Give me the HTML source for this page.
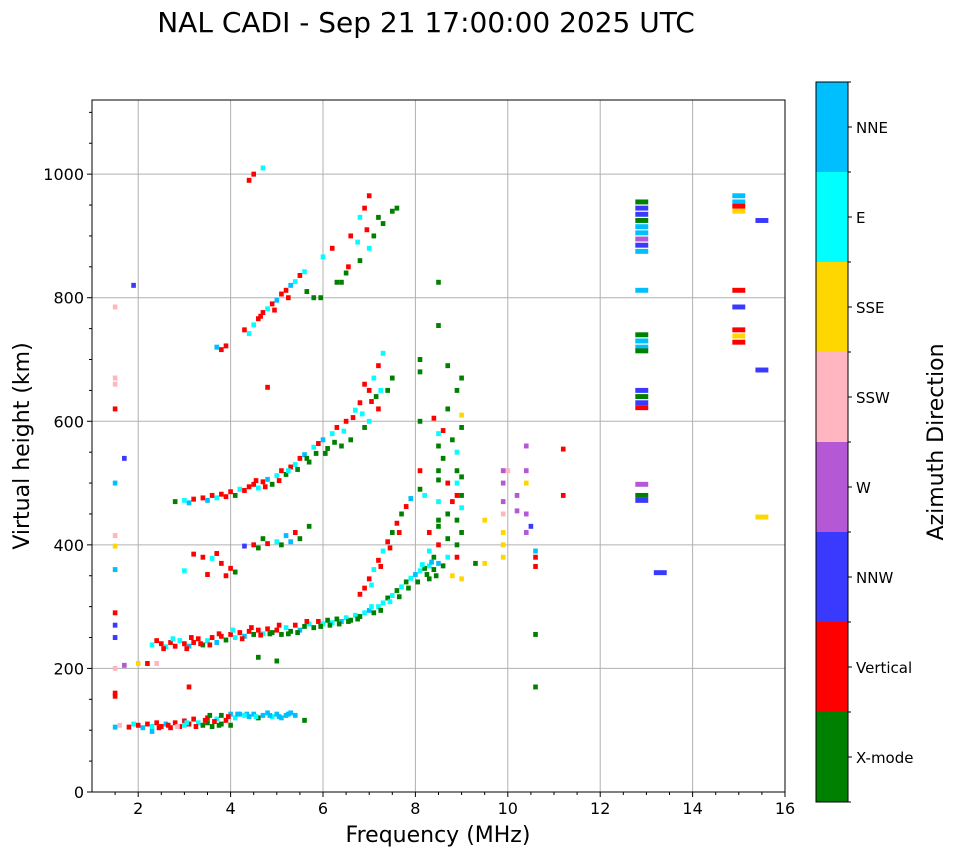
<!DOCTYPE html>
<html><head><meta charset="utf-8"><style>
body{margin:0;background:#fff;font-family:"DejaVu Sans","Liberation Sans",sans-serif}
svg text{font-family:"DejaVu Sans","Liberation Sans",sans-serif}
</style></head><body>
<svg id="chart" width="958" height="857" xmlns="http://www.w3.org/2000/svg">
<rect width="958" height="857" fill="#fff"/>
<text x="426" y="32" font-size="28" text-anchor="middle">NAL CADI - Sep 21 17:00:00 2025 UTC</text>
<g id="grid"></g>
<g id="marks"></g>
<rect x="92" y="100" width="693" height="692" fill="none" stroke="#000" stroke-width="1"/>
<g id="axes"></g>
<text x="438" y="842" font-size="22" text-anchor="middle">Frequency (MHz)</text>
<text transform="translate(29,446) rotate(-90)" font-size="22" text-anchor="middle">Virtual height (km)</text>
<g id="cbar"></g>
<text transform="translate(943,442) rotate(-90)" font-size="22" text-anchor="middle">Azimuth Direction</text>
</svg>
<script>
const directions=["X-mode","Vertical","NNW","W","SSW","SSE","E","NNE"];
const dirColors=["#008000","#ff0000","#3a3aff","#b558d6","#ffb6c1","#ffd700","#00ffff","#00bfff"];
const xTicks=[2,4,6,8,10,12,14,16];
const yTicks=[0,200,400,600,800,1000];
const echoes=[
[1.5,105,7],[1.6,108,4],[1.8,105,1],[1.9,110,6],[2.0,108,1],[2.1,104,7],[2.2,110,1],[2.3,106,6],[2.3,98,7],[2.4,112,1],[2.5,106,1],[2.6,110,7],[2.7,104,1],[2.8,112,1],[2.9,106,1],[3.0,115,1],[3.0,108,6],[3.1,110,1],[3.2,118,1],[3.3,112,6],[3.4,108,0],[3.5,120,1],[3.5,112,0],[3.6,106,0],[3.7,118,6],[3.8,124,0],[3.8,110,0],[3.9,116,1],[4.0,126,7],[4.0,108,0],[4.1,120,6],[4.2,126,7],[4.4,122,7],[4.5,126,7],[4.6,120,0],[4.7,124,7],[4.8,128,7],[4.9,122,6],[5.0,126,7],[5.1,120,7],[5.2,124,7],[5.3,128,7],[5.4,124,7],[5.6,116,0],
[2.45,104,1],[2.65,108,1],[2.85,106,4],[3.05,112,6],[3.25,106,1],[3.45,116,1],[3.65,114,1],[3.75,108,0],[3.95,122,1],[4.15,126,7],[4.35,126,7],[4.55,122,6],[4.85,124,7],[5.05,122,7],[5.25,126,7],[4.3,124,6],[3.55,124,0],
[1.5,160,1],[1.5,155,1],[2.0,208,5],[2.2,208,1],[2.4,208,4],[3.1,170,1],
[2.3,238,6],[2.4,245,1],[2.5,240,1],[2.6,235,6],[2.7,242,1],[2.8,236,1],[2.9,245,6],[3.0,240,1],[3.1,236,7],[3.2,242,1],[3.3,248,1],[3.4,238,0],[3.5,245,6],[3.6,250,1],[3.7,242,7],[3.8,252,1],[3.9,246,0],[4.0,255,1],[4.1,250,6],[4.2,258,1],[4.3,252,7],[4.4,260,1],[4.5,255,0],[4.6,262,1],[4.7,256,6],[4.8,264,1],[4.9,258,0],[5.0,262,1],[5.1,255,0],[5.2,266,6],[5.3,260,0],[5.4,270,1],[5.5,262,7],[5.6,268,0],[5.7,272,6],[5.8,266,0],[5.9,276,1],[6.0,272,6],[6.1,278,0],[6.2,274,6],[6.3,280,0],[6.4,276,7],[6.5,282,6],[6.6,278,0],[6.7,286,6],[6.8,284,0],[6.9,290,6],[7.0,294,7],[7.1,290,0],[7.2,300,6],[7.3,306,6],[7.4,314,0],[7.5,318,6],[7.6,326,0],[7.7,332,6],[7.8,340,0],[7.9,346,6],[8.0,352,7],[8.1,358,6],[8.2,362,0],[8.3,366,6],[8.4,360,0],[8.5,370,7],[8.6,366,0],[4.6,218,0],[5.0,212,0],
[2.55,232,1],[2.75,248,6],[3.05,232,1],[3.15,250,1],[3.35,240,1],[3.55,238,1],[3.75,256,1],[4.05,262,6],[4.25,248,1],[4.45,266,1],[4.65,254,1],[4.85,256,0],[5.05,270,1],[5.25,256,0],[5.45,258,0],[5.65,276,1],[5.95,268,0],[6.15,270,0],[6.35,272,0],[6.55,276,0],[6.75,280,0],[7.05,300,6],[7.25,294,0],[7.45,308,6],[7.65,316,0],[7.85,330,0],[8.05,340,0],[8.25,352,0],[8.35,372,7],[8.45,350,0],[8.15,368,6],
[6.8,320,1],[6.9,330,1],[7.0,345,1],[7.1,360,6],[7.2,375,1],[7.3,390,6],[7.4,405,1],[7.5,420,0],[7.6,435,1],[7.7,450,0],[7.8,462,1],[7.9,475,7],[7.05,335,6],[7.25,365,1],[7.45,395,1],[7.65,420,1],
[3.2,385,1],[3.4,380,1],[3.6,378,6],[3.8,370,1],[4.0,362,1],[4.1,356,0],[3.5,352,1],[3.0,358,6],[3.7,386,1],[3.9,350,1],
[4.3,398,2],[4.5,400,1],[4.6,395,0],[4.8,402,1],[5.0,405,6],[5.2,415,7],[5.4,420,1],[5.5,410,0],[5.7,430,0],[4.7,410,0],[5.1,400,0],[5.3,405,7],
[2.8,470,0],[3.0,472,6],[3.1,468,7],[3.2,474,1],[3.4,476,1],[3.5,472,7],[3.6,480,1],[3.7,476,6],[3.8,482,1],[4.0,486,1],[4.1,480,0],[4.2,490,6],[4.4,494,1],[4.5,498,1],[4.6,492,6],[4.7,502,1],[4.8,506,7],[4.9,498,0],[5.0,512,6],[5.1,520,1],[5.2,514,0],[5.3,526,1],[5.4,530,6],[5.5,540,1],[5.6,546,7],[5.7,534,0],[5.8,558,6],[5.9,564,1],[6.0,570,7],[6.1,556,0],[6.2,580,6],[6.3,590,1],[6.4,560,0],[6.5,600,1],[6.6,570,0],[6.7,618,6],[6.8,630,1],[6.9,590,0],[7.0,650,1],[7.1,670,6],[7.2,690,1],[7.3,710,6],[7.0,600,6],[7.2,620,1],[7.4,650,0],[7.5,670,0],[6.9,660,1],[4.8,655,1],
[3.9,478,1],[4.3,488,1],[4.55,504,1],[4.75,494,1],[5.05,504,1],[5.25,520,6],[5.45,522,0],[5.65,540,0],[5.85,548,0],[6.05,548,0],[6.25,566,0],[6.45,584,6],[6.65,606,1],[6.85,612,6],[7.05,632,1],[7.25,650,6],[7.15,640,0],
[3.7,720,7],[3.8,716,1],[3.9,722,1],[4.3,748,1],[4.4,742,6],[4.5,756,6],[4.6,766,1],[4.7,776,1],[4.8,782,6],[4.9,790,1],[5.0,796,7],[5.1,806,1],[5.2,812,1],[5.3,820,7],[5.4,826,6],[5.5,836,1],[5.6,842,6],[5.8,800,0],[6.0,866,6],[6.2,880,1],[6.4,825,0],[6.5,840,0],[6.6,900,1],[6.8,930,6],[6.9,945,1],[7.0,965,1],[7.1,900,0],[7.3,920,0],[7.6,945,0],[6.8,860,0],[7.0,880,6],[4.5,1000,1],[4.7,1010,6],[4.4,990,1],
[4.65,770,1],[4.95,780,1],[5.25,800,1],[5.65,810,0],[5.95,800,0],[6.3,825,0],[6.55,850,1],[6.75,890,6],[6.95,910,1],[7.2,930,0],[7.5,940,0],
[8.1,700,0],[8.1,680,0],[8.1,520,1],[8.1,490,0],[8.2,480,6],[8.3,420,1],[8.4,605,1],[8.5,825,0],[8.5,755,0],[8.5,560,0],[8.5,520,0],[8.5,470,6],[8.5,430,0],[8.5,400,1],[8.6,585,1],[8.6,540,0],[8.7,690,0],[8.7,620,0],[8.7,500,1],[8.7,450,0],[8.7,380,6],[8.8,570,0],[8.8,470,1],[8.8,350,5],[8.9,650,0],[8.9,550,6],[8.9,520,0],[8.9,480,1],[8.9,400,0],[9.0,670,0],[9.0,610,5],[9.0,590,0],[9.0,510,0],[9.0,460,6],[9.0,420,0],[9.0,345,5],[8.3,390,6],[8.4,380,0],[8.3,345,0],[8.1,600,0],[9.3,370,0],[9.5,440,5],[9.5,370,5],
[8.5,440,0],[8.9,440,0],[9.0,480,0],[8.9,500,6],[8.5,505,0],[8.7,410,0],[8.9,380,1],[8.5,580,6],
[9.9,520,3],[9.9,500,3],[9.9,470,3],[9.9,450,4],[9.9,420,5],[9.9,400,5],[9.9,380,5],[10.0,520,4],[10.2,480,3],[10.2,455,3],[10.4,560,3],[10.4,520,3],[10.4,500,5],[10.4,450,3],[10.4,420,3],[10.5,430,2],[10.6,380,1],[10.6,365,1],[10.6,390,7],[10.6,255,0],[10.6,170,0],[11.2,555,1],[11.2,480,1],[13.3,355,2],
[12.9,955,0],[12.9,945,2],[12.9,935,2],[12.9,925,0],[12.9,915,7],[12.9,905,7],[12.9,895,3],[12.9,885,2],[12.9,875,7],[12.9,812,7],[12.9,740,0],[12.9,730,7],[12.9,720,7],[12.9,714,0],[12.9,650,2],[12.9,640,0],[12.9,630,2],[12.9,622,1],[12.9,498,3],[12.9,480,0],[12.9,472,2],
[15.0,965,7],[15.0,955,7],[15.0,948,1],[15.0,940,5],[15.0,812,1],[15.0,785,2],[15.0,748,1],[15.0,738,5],[15.0,728,1],[15.5,925,2],[15.5,683,2],[15.5,445,5],
[1.5,620,1],[1.5,660,4],[1.5,670,4],[1.5,500,7],[1.5,415,4],[1.5,398,5],[1.5,360,7],[1.5,290,1],[1.5,270,2],[1.5,250,2],[1.5,785,4],[1.9,820,2],[1.7,540,2],[1.5,200,4],[1.7,205,3]
];
const NS="http://www.w3.org/2000/svg";
const X0=92,X1=785,Y0=792,Y1=100,FMIN=1,FMAX=16,HMIN=0,HMAX=1120;
const xs=f=>X0+(f-FMIN)/(FMAX-FMIN)*(X1-X0);
const ys=h=>Y0-(h-HMIN)/(HMAX-HMIN)*(Y0-Y1);
function mk(tag,attrs,parent){const e=document.createElementNS(NS,tag);for(const k in attrs)e.setAttribute(k,attrs[k]);parent.appendChild(e);return e;}
const grid=document.getElementById('grid'),axes=document.getElementById('axes'),marks=document.getElementById('marks'),cbar=document.getElementById('cbar');
xTicks.forEach(t=>{
  const x=xs(t);
  if(t<FMAX){const g=mk('line',{x1:x,x2:x,y1:Y1,y2:Y0,stroke:'#b0b0b0','stroke-width':1},grid);
  
  }
  mk('line',{x1:x,x2:x,y1:Y0,y2:Y0+5,stroke:'#000'},axes);
  const l=mk('text',{x:x,y:Y0+22,'font-size':16,'text-anchor':'middle'},axes);l.textContent=t;
  
  
});
for(let f=1.5;f<FMAX;f+=0.5){if(f%2!==0)mk('line',{x1:xs(f),x2:xs(f),y1:Y0,y2:Y0+3,stroke:'#000'},axes);}
yTicks.forEach(t=>{
  const y=ys(t);
  if(t>0){const g=mk('line',{x1:X0,x2:X1,y1:y,y2:y,stroke:'#b0b0b0','stroke-width':1},grid);
  
  }
  mk('line',{x1:X0-5,x2:X0,y1:y,y2:y,stroke:'#000'},axes);
  const l=mk('text',{x:X0-8,y:y+6,'font-size':16,'text-anchor':'end'},axes);l.textContent=t;
  
  
});
for(let h=50;h<HMAX;h+=50){if(h%200!==0)mk('line',{x1:X0-3,x2:X0,y1:ys(h),y2:ys(h),stroke:'#000'},axes);}
echoes.forEach(([f,h,d])=>{
  const w=f>=12.5?0.28:0.1;
  const r=mk('rect',{x:xs(f-w/2),y:ys(h+4),width:xs(f+w/2)-xs(f-w/2),height:ys(h-4)-ys(h+4),fill:dirColors[d]},marks);
  
  
});
const CB_X=816,CB_W=32,CB_TOP=82,CB_BOT=802,seg=(CB_BOT-CB_TOP)/directions.length;
directions.forEach((name,i)=>{
  const y=CB_BOT-(i+1)*seg;
  const r=mk('rect',{x:CB_X,y:y,width:CB_W,height:seg,fill:dirColors[i]},cbar);
  
  
  mk('line',{x1:CB_X+CB_W,x2:CB_X+CB_W+4,y1:y+seg/2,y2:y+seg/2,stroke:'#000'},cbar);
  const t=mk('text',{x:CB_X+CB_W+8,y:y+seg/2+6,'font-size':15},cbar);t.textContent=name;
  
  
});
for(let i=0;i<=directions.length;i++){const y=CB_BOT-i*seg;mk('line',{x1:CB_X+CB_W,x2:CB_X+CB_W+3,y1:y,y2:y,stroke:'#000'},cbar);}
mk('rect',{x:CB_X,y:CB_TOP,width:CB_W,height:CB_BOT-CB_TOP,fill:'none',stroke:'#000'},cbar);
</script>
</body></html>
